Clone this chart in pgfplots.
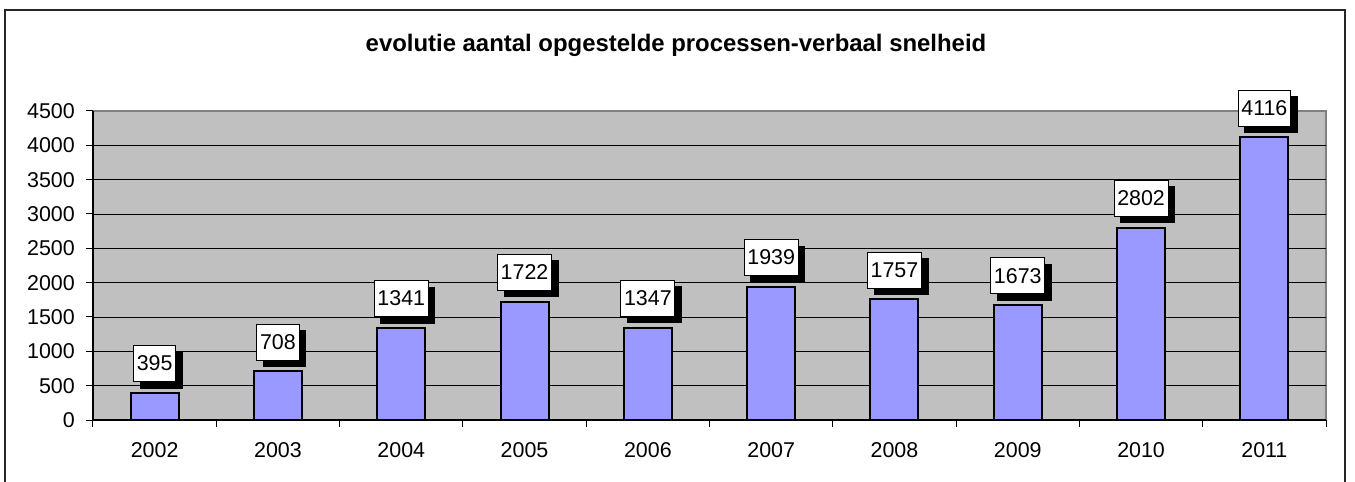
\documentclass[border=0pt]{standalone}
\usepackage{fontspec}
\setmainfont{Liberation Sans}
\usepackage{pgfplots}
\pgfplotsset{compat=1.18}
\usetikzlibrary{shadows}
\definecolor{plotbg}{HTML}{C0C0C0}
\definecolor{barfill}{HTML}{9999FF}
\definecolor{edgegray}{HTML}{808080}
\begin{document}
\begin{tikzpicture}
\useasboundingbox (-93bp,-62bp) rectangle (1262bp,420bp);
\begin{axis}[
  at={(0,0)}, anchor=south west,
  scale only axis, width=1233bp, height=309bp,
  clip=false,
  ymin=0, ymax=4500,
  ytick={0,500,...,4000},
  extra y ticks={4500},
  extra y tick style={grid=none},
  xmin=-0.5, xmax=9.5,
  xtick={0,...,9},
  xticklabels={2002,2003,2004,2005,2006,2007,2008,2009,2010,2011},
  minor xtick={-0.5,0.5,...,9.5},
  major x tick style={draw=none},
  tick align=outside,
  major tick length=7bp, minor tick length=7bp,
  axis lines*=left,
  axis line style={-, black, line width=1.2bp},
  every tick/.style={black, line width=1bp},
  ymajorgrids, grid style={black, line width=0.9bp},
  axis background/.style={fill=plotbg, draw=edgegray, line width=1.2bp},
  /pgf/number format/assume math mode=true,
  /pgf/number format/1000 sep={},
  tick label style={font=\fontsize{21.5}{25}\selectfont},
  yticklabel style={inner sep=0pt, xshift=-11bp},
  xticklabel style={inner sep=0pt, yshift=-15bp},
  ybar, bar width=48bp,
  nodes near coords,
  every node near coord/.append style={
    font=\fontsize{21.5}{25}\selectfont, black,
    draw=black, line width=0.8bp, fill=white,
    inner xsep=3.2bp, minimum height=36bp,
    anchor=south, yshift=11bp,
    drop shadow={shadow xshift=6.5bp, shadow yshift=-6.5bp, fill=black, opacity=1}
  },
]
\addplot[fill=barfill, draw=black, line width=2bp] coordinates {
  (0,395) (1,708) (2,1341) (3,1722) (4,1347)
  (5,1939) (6,1757) (7,1673) (8,2802) (9,4116)
};
\end{axis}
\node[font=\fontsize{24}{28}\selectfont\bfseries] at (583bp,375bp) {evolutie aantal opgestelde processen-verbaal snelheid};
\draw[line width=1.6bp, black!85] (-88bp,-70bp) -- (-88bp,410bp) -- (1252bp,410bp) -- (1252bp,-70bp);
\end{tikzpicture}
\end{document}
